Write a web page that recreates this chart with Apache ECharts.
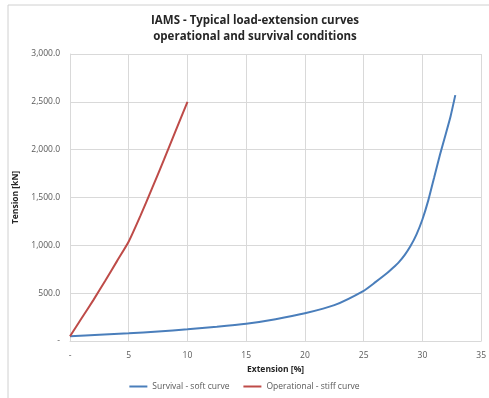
<!DOCTYPE html>
<html>
<head>
<meta charset="utf-8">
<script src="https://cdn.jsdelivr.net/npm/echarts@6/dist/echarts.min.js"></script>
<style>
  html, body { margin: 0; padding: 0; background: #fff; }
  #chart { width: 489px; height: 398px; }
</style>
</head>
<body>
<div id="chart"></div>
<script>
// Survival - soft curve: [extension %, tension kN]
const survivalExt = [0, 2.5, 5, 7.5, 10, 12.5, 15, 17.5, 20, 22.5, 25, 26, 27, 27.5, 28, 28.5, 29, 29.5, 30, 30.5, 31, 31.5, 32, 32.4, 32.8]
const survivalTen = [50, 65, 80, 100, 122, 148, 180, 228, 290, 375, 525, 615, 710, 765, 825, 900, 995, 1115, 1270, 1470, 1710, 1950, 2170, 2350, 2570]
// Operational - stiff curve
const operExt = [0, 1, 2, 3, 4, 5, 6, 7, 8, 9, 10]
const operTen = [50, 240, 430, 630, 835, 1040, 1310, 1600, 1895, 2200, 2500]

const xTicks = [0, 5, 10, 15, 20, 25, 30, 35]
const yTicks = [0, 500, 1000, 1500, 2000, 2500, 3000]

const chart = echarts.init(document.getElementById('chart'))
const font = '"Open Sans", "Liberation Sans", sans-serif'

const pairs = (xs, ys) => xs.map((x, i) => [x, ys[i]])
const fmtY = v => v === 0 ? '-' : v.toLocaleString('en-US', { minimumFractionDigits: 1, maximumFractionDigits: 1 })

const option = {
  animation: false,
  backgroundColor: '#fff',
  textStyle: { fontFamily: font },
  graphic: [
    {
      type: 'polyline',
      shape: { points: [[8, 398], [8, 5], [489, 5]] },
      style: { stroke: '#d0d0d0', lineWidth: 1, fill: null }
    }
  ],
  title: {
    text: 'IAMS - Typical load-extension curves\noperational and survival conditions',
    left: 250,
    textAlign: 'center',
    top: 8,
    textStyle: { fontSize: 11.5, fontWeight: 'bold', color: '#262626', lineHeight: 16, fontFamily: font }
  },
  legend: {
    bottom: 2,
    left: 'center',
    itemWidth: 18,
    itemHeight: 2,
    itemGap: 14,
    icon: 'rect',
    textStyle: { fontSize: 8.5, color: '#595959', fontFamily: font },
    data: ['Survival - soft curve', 'Operational - stiff curve']
  },
  grid: { left: 70, right: 7, top: 54, bottom: 57 },
  xAxis: {
    type: 'value',
    min: xTicks[0],
    max: xTicks[xTicks.length - 1],
    interval: 5,
    name: 'Extension [%]',
    nameLocation: 'middle',
    nameGap: 23,
    nameTextStyle: { fontSize: 8.5, fontWeight: 'bold', color: '#262626' },
    axisLine: { show: true, lineStyle: { color: '#d9d9d9' } },
    axisTick: { show: false },
    axisLabel: { fontSize: 8.5, color: '#595959', margin: 10, formatter: v => v === 0 ? '-' : String(v) },
    splitLine: { show: true, lineStyle: { color: '#d9d9d9' } }
  },
  yAxis: {
    type: 'value',
    min: yTicks[0],
    max: yTicks[yTicks.length - 1],
    interval: 500,
    name: 'Tension [kN]',
    nameLocation: 'middle',
    nameGap: 40,
    nameTextStyle: { fontSize: 8.5, fontWeight: 'bold', color: '#262626' },
    axisLine: { show: true, lineStyle: { color: '#d9d9d9' } },
    axisTick: { show: false },
    axisLabel: { fontSize: 8.5, color: '#595959', margin: 10, formatter: fmtY },
    splitLine: { show: true, lineStyle: { color: '#d9d9d9' } }
  },
  series: [
    {
      name: 'Survival - soft curve',
      type: 'line',
      data: pairs(survivalExt, survivalTen),
      smooth: 0.2,
      showSymbol: false,
      lineStyle: { color: '#4a7ebb', width: 2 },
      itemStyle: { color: '#4a7ebb' }
    },
    {
      name: 'Operational - stiff curve',
      type: 'line',
      data: pairs(operExt, operTen),
      smooth: 0.2,
      showSymbol: false,
      lineStyle: { color: '#be4b48', width: 2 },
      itemStyle: { color: '#be4b48' }
    }
  ]
}
chart.setOption(option)

window.addEventListener('resize', () => chart.resize())
</script>
</body>
</html>
